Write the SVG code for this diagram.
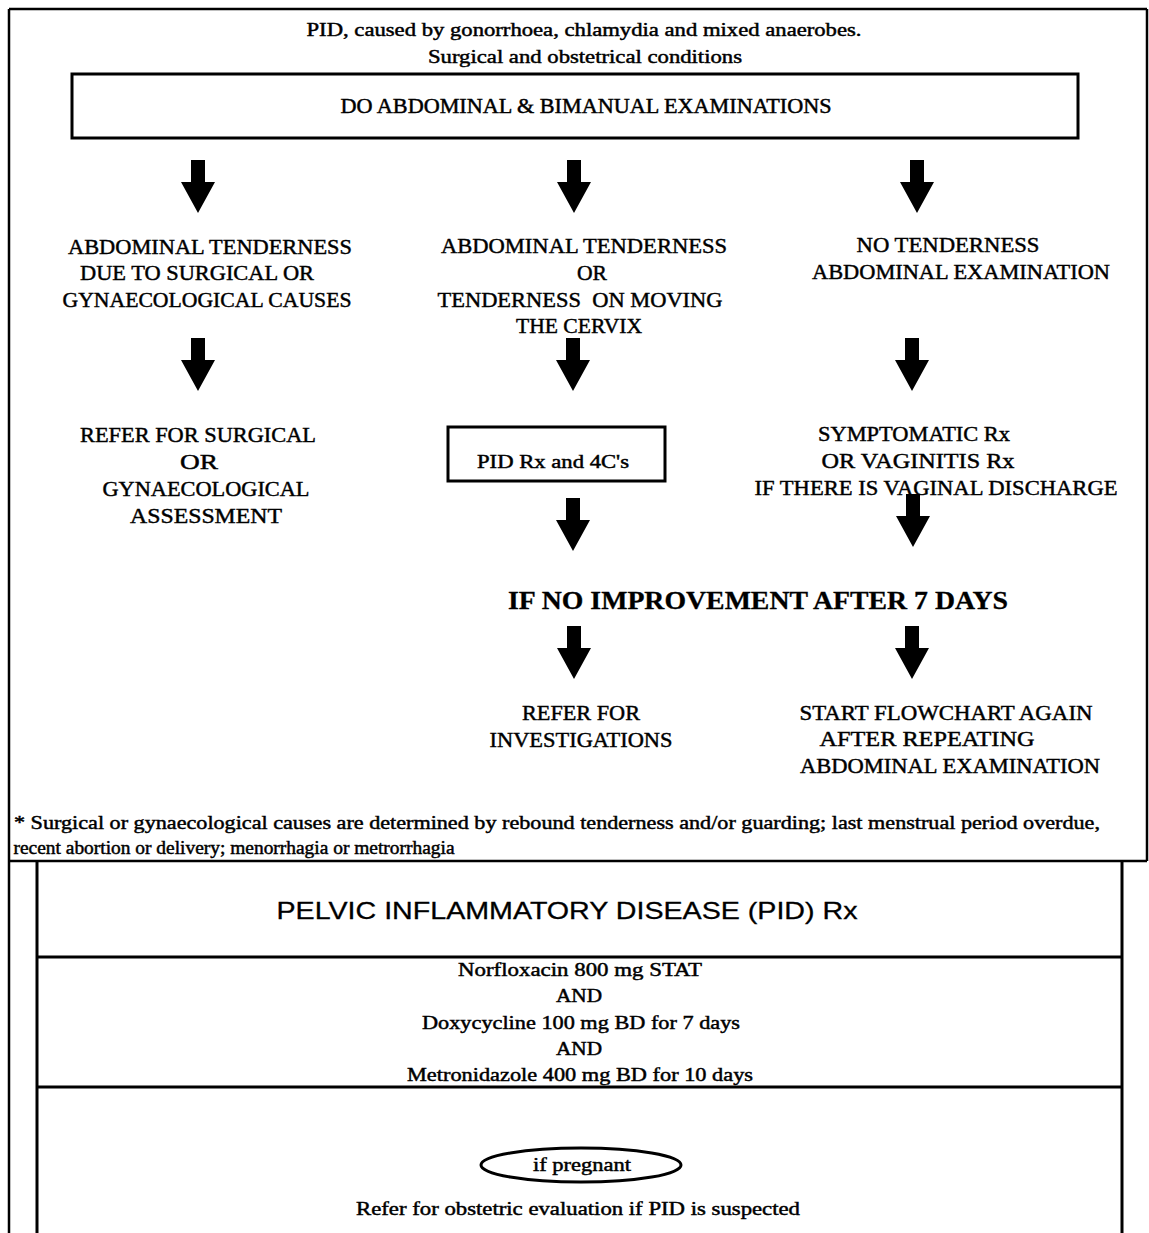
<svg xmlns="http://www.w3.org/2000/svg" width="1149" height="1233" viewBox="0 0 1149 1233">
  <style>
    .t { font-family: "Liberation Serif", "Times New Roman", serif; fill: #000; stroke: #000; stroke-width: 0.45; text-anchor: middle; }
    .s18 { font-size: 18px; }
    .s20 { font-size: 20px; }
    .s21 { font-size: 22px; }
    .big { font-size: 26px; font-weight: bold; stroke-width: 0.3; }
    .sans { font-family: "Liberation Sans", Arial, sans-serif; font-size: 24px; fill: #000; stroke: #000; stroke-width: 0.3; text-anchor: middle; }
    .frame { fill: none; stroke: #000; stroke-width: 2.5; }
    .box { fill: #fff; stroke: #000; stroke-width: 3; }
    .arrow { fill: #000; }
  </style>
  <defs>
    <!-- block arrow pointing down, origin at top centre of the shaft -->
    <path id="downArrow" class="arrow" d="M -7 0 L 7 0 L 7 22 L 17 22 L 0 53 L -17 22 L -7 22 Z"/>
  </defs>

  <rect width="1149" height="1233" fill="#fff"/>

  <!-- page frame -->
  <g id="frame">
    <line class="frame" x1="9" y1="9" x2="1147" y2="9"/>
    <line class="frame" x1="9" y1="9" x2="9" y2="1233"/>
    <line class="frame" x1="1147" y1="9" x2="1147" y2="861"/>
    <line class="frame" x1="9" y1="861" x2="1147" y2="861"/>
  </g>

  <!-- heading lines -->
  <g id="heading">
    <text class="t s18" x="584" y="36" textLength="555" lengthAdjust="spacingAndGlyphs">PID, caused by gonorrhoea, chlamydia and mixed anaerobes.</text>
    <text class="t s18" x="585" y="63" textLength="314" lengthAdjust="spacingAndGlyphs">Surgical and obstetrical conditions</text>
  </g>

  <g id="exam">
    <rect class="box" x="72" y="74" width="1006" height="64"/>
    <text class="t s20" x="586" y="113" textLength="491" lengthAdjust="spacingAndGlyphs">DO ABDOMINAL &amp; BIMANUAL EXAMINATIONS</text>
  </g>

  <g id="surgical-causes">
    <text class="t s21" x="210" y="254" textLength="284" lengthAdjust="spacingAndGlyphs">ABDOMINAL TENDERNESS</text>
    <text class="t s21" x="197" y="280" textLength="234" lengthAdjust="spacingAndGlyphs">DUE TO SURGICAL OR</text>
    <text class="t s21" x="207" y="307" textLength="289" lengthAdjust="spacingAndGlyphs">GYNAECOLOGICAL CAUSES</text>
  </g>

  <g id="cervix-tenderness">
    <text class="t s21" x="584" y="253" textLength="286" lengthAdjust="spacingAndGlyphs">ABDOMINAL TENDERNESS</text>
    <text class="t s21" x="592" y="280" textLength="30" lengthAdjust="spacingAndGlyphs">OR</text>
    <text class="t s21" x="580" y="307" textLength="285" lengthAdjust="spacingAndGlyphs" xml:space="preserve">TENDERNESS  ON MOVING</text>
    <text class="t s21" x="579" y="333" textLength="126" lengthAdjust="spacingAndGlyphs">THE CERVIX</text>
  </g>

  <g id="no-tenderness">
    <text class="t s21" x="948" y="252" textLength="183" lengthAdjust="spacingAndGlyphs">NO TENDERNESS</text>
    <text class="t s21" x="961" y="279" textLength="298" lengthAdjust="spacingAndGlyphs">ABDOMINAL EXAMINATION</text>
  </g>

  <g id="refer-assessment">
    <text class="t s21" x="198" y="442" textLength="236" lengthAdjust="spacingAndGlyphs">REFER FOR SURGICAL</text>
    <text class="t s21" x="199" y="469" textLength="38" lengthAdjust="spacingAndGlyphs">OR</text>
    <text class="t s21" x="206" y="496" textLength="207" lengthAdjust="spacingAndGlyphs">GYNAECOLOGICAL</text>
    <text class="t s21" x="206" y="523" textLength="152" lengthAdjust="spacingAndGlyphs">ASSESSMENT</text>
  </g>

  <g id="pid-rx">
    <rect class="box" x="448" y="427" width="217" height="54"/>
    <text class="t s18" x="553" y="468" textLength="152" lengthAdjust="spacingAndGlyphs">PID Rx and 4C's</text>
  </g>

  <g id="symptomatic-rx">
    <text class="t s21" x="914" y="441" textLength="192" lengthAdjust="spacingAndGlyphs">SYMPTOMATIC Rx</text>
    <text class="t s21" x="918" y="468" textLength="193" lengthAdjust="spacingAndGlyphs">OR VAGINITIS Rx</text>
    <text class="t s21" x="936" y="495" textLength="363" lengthAdjust="spacingAndGlyphs">IF THERE IS VAGINAL DISCHARGE</text>
  </g>

  <g id="no-improvement">
    <text class="t big" x="758" y="609" textLength="500" lengthAdjust="spacingAndGlyphs">IF NO IMPROVEMENT AFTER 7 DAYS</text>
  </g>

  <g id="refer-investigations">
    <text class="t s21" x="581" y="720" textLength="118" lengthAdjust="spacingAndGlyphs">REFER FOR</text>
    <text class="t s21" x="581" y="747" textLength="183" lengthAdjust="spacingAndGlyphs">INVESTIGATIONS</text>
  </g>

  <g id="start-again">
    <text class="t s21" x="946" y="720" textLength="293" lengthAdjust="spacingAndGlyphs">START FLOWCHART AGAIN</text>
    <text class="t s21" x="927" y="746" textLength="215" lengthAdjust="spacingAndGlyphs">AFTER REPEATING</text>
    <text class="t s21" x="950" y="773" textLength="300" lengthAdjust="spacingAndGlyphs">ABDOMINAL EXAMINATION</text>
  </g>

  <!-- arrows between the steps -->
  <g id="connectors">
    <use href="#downArrow" x="198" y="160"/>
    <use href="#downArrow" x="574" y="160"/>
    <use href="#downArrow" x="917" y="160"/>
    <use href="#downArrow" x="198" y="338"/>
    <use href="#downArrow" x="573" y="338"/>
    <use href="#downArrow" x="912" y="338"/>
    <use href="#downArrow" x="573" y="498"/>
    <use href="#downArrow" x="913" y="494"/>
    <use href="#downArrow" x="574" y="626"/>
    <use href="#downArrow" x="912" y="626"/>
  </g>

  <g id="footnote">
    <text class="t s18" x="557" y="829" textLength="1086" lengthAdjust="spacingAndGlyphs">* Surgical or gynaecological causes are determined by rebound tenderness and/or guarding; last menstrual period overdue,</text>
    <text class="t s18" x="234" y="854" textLength="441" lengthAdjust="spacingAndGlyphs">recent abortion or delivery; menorrhagia or metrorrhagia</text>
  </g>

  <!-- treatment table -->
  <g id="treatment-table">
    <line class="box" x1="37" y1="861" x2="37" y2="1233"/>
    <line class="box" x1="1122" y1="861" x2="1122" y2="1233"/>
    <line class="box" x1="37" y1="957" x2="1122" y2="957"/>
    <line class="box" x1="37" y1="1087" x2="1122" y2="1087"/>
  </g>

  <g id="table-title">
    <text class="sans" x="567" y="919" textLength="581" lengthAdjust="spacingAndGlyphs">PELVIC INFLAMMATORY DISEASE (PID) Rx</text>
  </g>

  <g id="regimen">
    <text class="t s18" x="580" y="976" textLength="244" lengthAdjust="spacingAndGlyphs">Norfloxacin 800 mg STAT</text>
    <text class="t s18" x="579" y="1002" textLength="46" lengthAdjust="spacingAndGlyphs">AND</text>
    <text class="t s18" x="581" y="1029" textLength="318" lengthAdjust="spacingAndGlyphs">Doxycycline 100 mg BD for 7 days</text>
    <text class="t s18" x="579" y="1055" textLength="46" lengthAdjust="spacingAndGlyphs">AND</text>
    <text class="t s18" x="580" y="1081" textLength="346" lengthAdjust="spacingAndGlyphs">Metronidazole 400 mg BD for 10 days</text>
  </g>

  <g id="if-pregnant">
    <ellipse cx="581" cy="1165" rx="100" ry="17" fill="#fff" stroke="#000" stroke-width="3"/>
    <text class="t s18" x="582" y="1171" textLength="98" lengthAdjust="spacingAndGlyphs">if pregnant</text>
  </g>

  <g id="obstetric-referral">
    <text class="t s18" x="578" y="1215" textLength="444" lengthAdjust="spacingAndGlyphs">Refer for obstetric evaluation if PID is suspected</text>
  </g>
</svg>
